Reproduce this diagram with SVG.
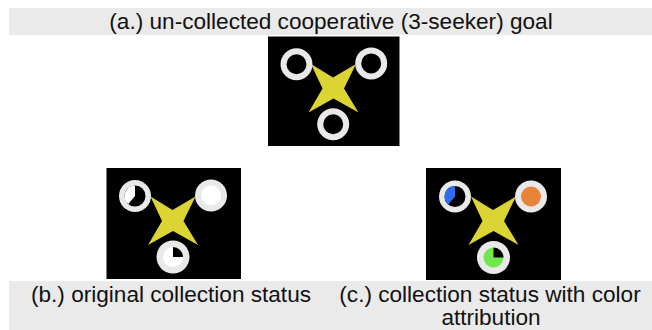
<svg xmlns="http://www.w3.org/2000/svg" width="652" height="330" viewBox="0 0 652 330">
  <style>
    .bar { fill: #eaeaea; }
    .panel { fill: #000; }
    .star { fill: #dcd432; }
    .ring { fill: none; stroke: #e9e9e9; stroke-width: 6; }
    .disc { fill: #e9e9e9; }
    .caption { font-family: "Liberation Sans", Arial, sans-serif; font-size: 22.6px; fill: #111; text-anchor: middle; }
  </style>
  <defs>
    <path id="star" d="M-22.500 -30 L-0.500 -16.500 L22.500 -30 L10.500 -5.500 L25 18.500 L0 4.500 L-25 18.500 L-11 -5.500 Z"/>
  </defs>

  <rect class="bar" x="9" y="8" width="643" height="27"/>
  <rect class="bar" x="9" y="281" width="643" height="49"/>

  <g id="goal-a">
    <rect class="panel" x="268" y="36.500" width="131.500" height="109.500"/>
    <use href="#star" class="star" x="333.500" y="94"/>
    <circle class="ring" cx="296.500" cy="64.200" r="13"/>
    <circle class="ring" cx="371.200" cy="63.400" r="13"/>
    <circle class="ring" cx="333.200" cy="124.200" r="13"/>
  </g>

  <g id="goal-b">
    <rect class="panel" x="106.500" y="168" width="134.500" height="111"/>
    <use href="#star" class="star" x="173" y="226.500"/>
    <circle class="disc" cx="135" cy="196" r="16"/>
    <circle cx="135" cy="196" r="10.500" fill="#000"/>
    <path d="M135 196 L135 185.500 A10.500 10.500 0 0 0 128.250 204 Z" fill="#fff"/>
    <circle class="disc" cx="211" cy="195.500" r="16"/>
    <circle cx="211" cy="195.500" r="10" fill="#fff"/>
    <circle class="disc" cx="173" cy="257" r="16.500"/>
    <circle cx="173" cy="257" r="10" fill="#fff"/>
    <path d="M173 257 L173 247 A10 10 0 0 1 183 257 Z" fill="#000"/>
  </g>

  <g id="goal-c">
    <rect class="panel" x="426" y="168" width="135" height="112"/>
    <use href="#star" class="star" x="493.500" y="226.500"/>
    <circle class="disc" cx="455" cy="196.500" r="16"/>
    <circle cx="455" cy="196.500" r="10.500" fill="#000"/>
    <path d="M455 196.500 L455 186 A10.500 10.500 0 0 0 448.250 204.500 Z" fill="#2f6cf0"/>
    <circle class="disc" cx="531" cy="196.500" r="16"/>
    <circle cx="531" cy="196.500" r="10" fill="#e8843a"/>
    <circle class="disc" cx="493.500" cy="257.500" r="16.500"/>
    <circle cx="493.500" cy="257.500" r="10" fill="#70e84c"/>
    <path d="M493.500 257.500 L493.500 247.500 A10 10 0 0 1 503.500 257.500 Z" fill="#000"/>
  </g>

  <text class="caption" x="331" y="29">(a.) un-collected cooperative (3-seeker) goal</text>
  <text class="caption" x="171" y="302">(b.) original collection status</text>
  <text class="caption" x="490" y="302">(c.) collection status with color</text>
  <text class="caption" x="491" y="325">attribution</text>
</svg>
